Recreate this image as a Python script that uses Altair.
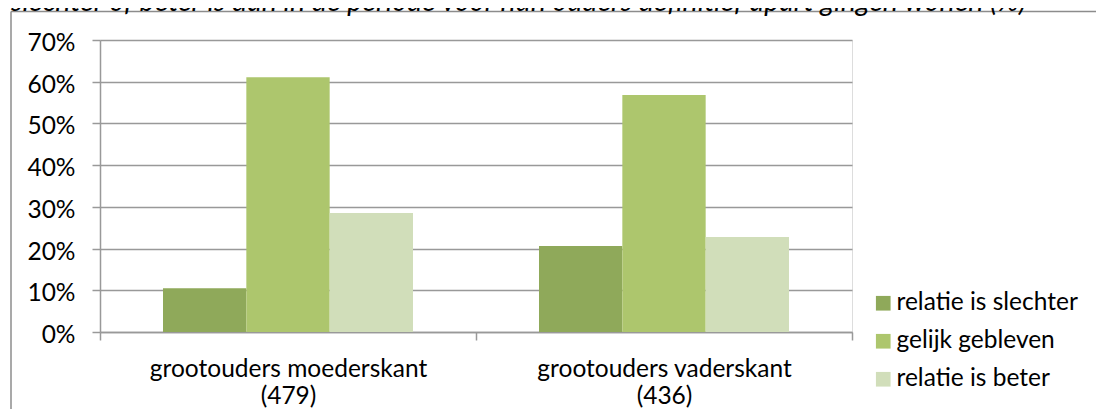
import altair as alt
import pandas as pd

title_text = "slechter of beter is dan in de periode voor hun ouders definitief apart gingen wonen (%)"
groups = ["grootouders moederskant", "grootouders vaderskant"]
group_n = [479, 436]
series = ["relatie is slechter", "gelijk gebleven", "relatie is beter"]
values = {
    "relatie is slechter": [0.105, 0.206],
    "gelijk gebleven": [0.611, 0.568],
    "relatie is beter": [0.285, 0.228],
}
colors = ["#8FA95A", "#ADC66D", "#D1DEBA"]
y_ticks = [0, 0.1, 0.2, 0.3, 0.4, 0.5, 0.6, 0.7]

rows = []
for gi, g in enumerate(groups):
    for s in series:
        rows.append({"group": f"{g}|({group_n[gi]})", "serie": s, "value": values[s][gi]})
df = pd.DataFrame(rows)
group_labels = [f"{g}|({n})" for g, n in zip(groups, group_n)]

FONT = "Lato"
FS = 24.5
GRID = "#999999"

bars = alt.Chart(df).mark_bar().encode(
    x=alt.X("group:N", sort=group_labels, title=None,
            scale=alt.Scale(paddingInner=0, paddingOuter=0),
            axis=alt.Axis(tickBand="extent", labelAngle=0, labelExpr="split(datum.label, '|')",
                          labelBaseline="alphabetic", labelPadding=36, labelLineHeight=27,
                          labelLimit=0,
                          tickSize=8, tickColor=GRID, domainColor=GRID, tickWidth=1.5, domainWidth=1.5,
                          grid=False, labelFontSize=FS, labelColor="#000000", labelFont=FONT)),
    xOffset=alt.XOffset("serie:N", sort=series,
                        scale=alt.Scale(domain=series, paddingInner=0, paddingOuter=0.756)),
    y=alt.Y("value:Q", title=None,
            scale=alt.Scale(domain=[0, 0.7], nice=False),
            axis=alt.Axis(values=y_ticks, format=".0%", tickSize=8, tickColor=GRID, tickWidth=1.5,
                          domainColor=GRID, domainWidth=1.5, gridColor=GRID, gridWidth=1.5,
                          labelPadding=17, labelOffset=3.5, labelFontSize=FS, labelColor="#000000",
                          labelFont=FONT)),
    color=alt.Color("serie:N", sort=series,
                    scale=alt.Scale(domain=series, range=colors),
                    legend=alt.Legend(title=None, orient="none", legendX=771, legendY=251,
                                      symbolType="square", symbolSize=215, symbolStrokeWidth=0,
                                      labelFontSize=FS, labelFont=FONT, labelColor="#000000",
                                      labelLimit=0,
                                      rowPadding=13, labelOffset=1, padding=0)),
)

title = alt.Chart(pd.DataFrame({"t": [title_text]})).mark_text(
    align="left", baseline="alphabetic", font=FONT, fontSize=28.5, fontStyle="italic", color="#000000"
).encode(text="t:N", x=alt.value(-89), y=alt.value(-29))

frame_top = alt.Chart(pd.DataFrame({"a": [0]})).mark_rule(color="#8c8c8c", strokeWidth=1.5).encode(
    x=alt.value(-89), x2=alt.value(996), y=alt.value(-28.5))
frame_left = alt.Chart(pd.DataFrame({"a": [0]})).mark_rule(color="#8c8c8c", strokeWidth=1.5).encode(
    x=alt.value(-89), y=alt.value(-28.5), y2=alt.value(369))

chart = alt.layer(frame_top, frame_left, bars, title).properties(
    width=752, height=292,
    autosize=alt.AutoSizeParams(type="none"),
    padding={"left": 92, "top": 32, "right": 244, "bottom": 77},
).configure_view(stroke=None).configure(font=FONT)

chart.save("out.html", embed_options={"renderer": "svg", "actions": False})
